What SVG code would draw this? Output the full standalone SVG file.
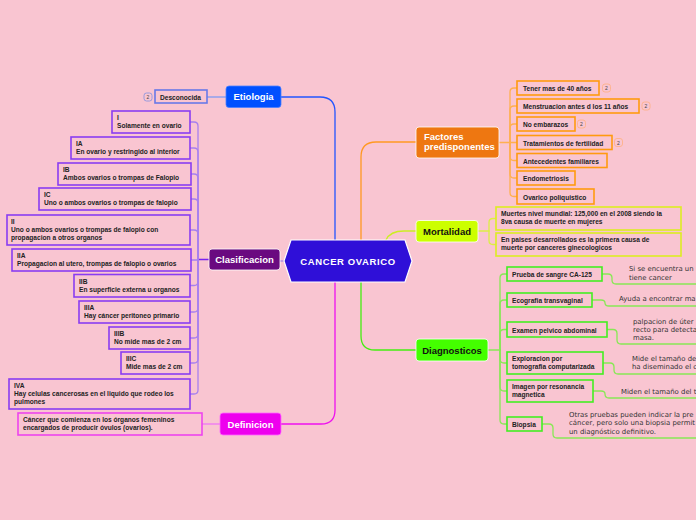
<svg xmlns="http://www.w3.org/2000/svg" width="696" height="520" viewBox="0 0 696 520">
<style>
.t{font-family:"Liberation Sans",Arial,sans-serif;font-weight:bold;font-size:6.6px;fill:#222}
.n{font-family:"DejaVu Sans",Verdana,sans-serif;font-size:6.9px;fill:#333}
.m{font-family:"Liberation Sans",Arial,sans-serif;font-weight:bold;font-size:9.5px}
.w{fill:#fff}
.d{fill:#111}
.bx{fill:#f9c5d1;stroke-width:1.6}
.cl{stroke:#8a3cf2}
.or{stroke:#ff9a10}
.gr{stroke:#44ee22}
.ye{stroke:#dded22}
.c{fill:none;stroke-width:1.3;stroke-linecap:round}
.bd{fill:#f9c5d1;stroke-width:0.8}
.bt{font-family:"Liberation Sans",Arial,sans-serif;font-size:5px;fill:#444;text-anchor:middle}
</style>
<rect width="696" height="520" fill="#f9c5d1"/>

<g id="connectors">
  <path class="c" d="M335,240 V112 Q335,97 320,97 H281" stroke="#2255ff" stroke-width="2.2"/>
  <path class="c" d="M361,240 V157 Q361,142 376,142 H416" stroke="#ff9922" stroke-width="2.2"/>
  <path class="c" d="M386,240 Q390,231 404,231 H416" stroke="#ccee22" stroke-width="2"/>
  <path class="c" d="M361,282 V336 Q361,350 375,350 H416" stroke="#44ee11" stroke-width="2.2"/>
  <path class="c" d="M335,282 V410 Q335,424 321,424 H281" stroke="#ee11ee" stroke-width="2.2"/>
  <path class="c" d="M284,261 H280" stroke="#b090e0" stroke-width="1.5"/>
  <path class="c" d="M226,97 H207" stroke="#8fa0ee"/>
  <path class="c" d="M220,424 H202" stroke="#f080f0"/>
  <path class="c" d="M209,259.5 H198" stroke="#7a22f0" stroke-width="2"/>
  <g stroke="#a880ee">
    <path class="c" d="M198,259 V126 Q198,122 194,122 H190"/>
    <path class="c" d="M198,259 V152 Q198,148 194,148 H190"/>
    <path class="c" d="M198,259 V178 Q198,174 194,174 H191"/>
    <path class="c" d="M198,259 V203 Q198,199 194,199 H191"/>
    <path class="c" d="M198,259 V234 Q198,230 194,230 H190"/>
    <path class="c" d="M198,260 H191"/>
    <path class="c" d="M198,259 V281.5 Q198,285.5 194,285.5 H190"/>
    <path class="c" d="M198,259 V308 Q198,312 194,312 H190"/>
    <path class="c" d="M198,259 V334 Q198,338 194,338 H190"/>
    <path class="c" d="M198,259 V359 Q198,363 194,363 H190"/>
    <path class="c" d="M198,259 V390 Q198,394 194,394 H190"/>
  </g>
  <g stroke="#ffb050">
    <path class="c" d="M499,142.5 H517"/>
    <path class="c" d="M510,142 V92 Q510,88 514,88 H517"/>
    <path class="c" d="M510,142 V110 Q510,106 514,106 H517"/>
    <path class="c" d="M510,142 V128 Q510,124 514,124 H517"/>
    <path class="c" d="M510,142 V156.5 Q510,160.5 514,160.5 H517"/>
    <path class="c" d="M510,142 V174 Q510,178 514,178 H517"/>
    <path class="c" d="M510,142 V192.5 Q510,196.5 514,196.5 H517"/>
  </g>
  <g stroke="#ddee44">
    <path class="c" d="M478,231 H489"/>
    <path class="c" d="M489,231 V222.5 Q489,218.5 493,218.5 H496"/>
    <path class="c" d="M489,231 V240.5 Q489,244.5 493,244.5 H496"/>
  </g>
  <g stroke="#88e855">
    <path class="c" d="M488,350 H500"/>
    <path class="c" d="M500,350 V278 Q500,274 504,274 H507"/>
    <path class="c" d="M500,350 V304 Q500,300 504,300 H507"/>
    <path class="c" d="M500,350 V333.5 Q500,329.5 504,329.5 H507"/>
    <path class="c" d="M500,350 V359 Q500,363 504,363 H507"/>
    <path class="c" d="M500,350 V387 Q500,391 504,391 H507"/>
    <path class="c" d="M500,350 V420 Q500,424 504,424 H507"/>
    <path class="c" d="M602,274 H608 Q612,274 612,278 V280 Q612,284 616,284 H696"/>
    <path class="c" d="M592,300 H601 Q605,300 605,303 Q605,306 609,306 H696"/>
    <path class="c" d="M607,329.5 H613 Q617,329.5 617,333.5 V340 Q617,344 621,344 H696"/>
    <path class="c" d="M603,363 H610 Q614,363 614,367 V370 Q614,374 618,374 H696"/>
    <path class="c" d="M593,391 H601 Q605,391 605,394 Q605,398 609,398 H696"/>
    <path class="c" d="M542,424 H549 Q553,424 553,428 V434 Q553,438 557,438 H696"/>
  </g>
</g>

<g id="center">
  <polygon points="291,240 405,240 412,261 405,282 291,282 284,261" fill="#2f0fd8" stroke="#ffffff" stroke-width="1.2"/>
  <text class="m w" x="348" y="264.5" text-anchor="middle" font-size="9" letter-spacing="0.6">CANCER OVARICO</text>
</g>

<g id="etiologia">
  <rect x="226" y="86" width="55" height="21.5" rx="3" fill="#0050ff" stroke="#4d80ff" stroke-width="0.8"/>
  <text class="m w" x="253.5" y="100" text-anchor="middle">Etiologia</text>
</g>
<g id="desconocida">
  <rect class="bx" x="155" y="90" width="52" height="13" stroke="#6878e8" stroke-width="1.4"/>
  <text class="t" x="160" y="99.5">Desconocida</text>
  <rect class="bd" x="144" y="93" width="8" height="8" rx="2.5" stroke="#8090e0"/>
  <text class="bt" x="148" y="99">2</text>
</g>

<g id="clasificacion">
  <rect x="209" y="249" width="71" height="21" rx="3" fill="#6a0a80" stroke="#ffffff" stroke-width="0.8"/>
  <text class="m w" x="244.5" y="262.5" text-anchor="middle">Clasificacion</text>
</g>
<g id="c-I">
  <rect class="bx cl" x="112" y="111" width="78" height="22"/>
  <text class="t" x="117" y="120">I</text>
  <text class="t" x="117" y="128">Solamente en ovario</text>
</g>
<g id="c-IA">
  <rect class="bx cl" x="71" y="137" width="119" height="22"/>
  <text class="t" x="76" y="146">IA</text>
  <text class="t" x="76" y="154">En ovario y restringido al interior</text>
</g>
<g id="c-IB">
  <rect class="bx cl" x="58" y="163" width="133" height="22"/>
  <text class="t" x="63" y="172">IB</text>
  <text class="t" x="63" y="180">Ambos ovarios o trompas de Falopio</text>
</g>
<g id="c-IC">
  <rect class="bx cl" x="39" y="188" width="152" height="22"/>
  <text class="t" x="44" y="197">IC</text>
  <text class="t" x="44" y="205">Uno o ambos ovarios o trompas de falopio</text>
</g>
<g id="c-II">
  <rect class="bx cl" x="7" y="215" width="183" height="30"/>
  <text class="t" x="11" y="224">II</text>
  <text class="t" x="11" y="232">Uno o ambos ovarios o trompas de falopio con</text>
  <text class="t" x="11" y="240">propagacion a otros organos</text>
</g>
<g id="c-IIA">
  <rect class="bx cl" x="12" y="249" width="179" height="22"/>
  <text class="t" x="17" y="258">IIA</text>
  <text class="t" x="17" y="266">Propagacion al utero, trompas de falopio o ovarios</text>
</g>
<g id="c-IIB">
  <rect class="bx cl" x="74" y="274.5" width="116" height="22.5"/>
  <text class="t" x="79" y="284">IIB</text>
  <text class="t" x="79" y="292">En superficie externa u organos</text>
</g>
<g id="c-IIIA">
  <rect class="bx cl" x="79" y="301" width="111" height="22"/>
  <text class="t" x="84" y="310">IIIA</text>
  <text class="t" x="84" y="318">Hay cáncer peritoneo primario</text>
</g>
<g id="c-IIIB">
  <rect class="bx cl" x="109" y="327" width="81" height="22"/>
  <text class="t" x="114" y="336">IIIB</text>
  <text class="t" x="114" y="344">No mide mas de 2 cm</text>
</g>
<g id="c-IIIC">
  <rect class="bx cl" x="121" y="352" width="69" height="22"/>
  <text class="t" x="126" y="361">IIIC</text>
  <text class="t" x="126" y="369">Mide mas de 2 cm</text>
</g>
<g id="c-IVA">
  <rect class="bx cl" x="9" y="379" width="181" height="30"/>
  <text class="t" x="14" y="388">IVA</text>
  <text class="t" x="14" y="396">Hay celulas cancerosas en el liquido que rodeo los</text>
  <text class="t" x="14" y="404">pulmones</text>
</g>

<g id="definicion">
  <rect x="220" y="413" width="61" height="22" rx="3" fill="#ee00ee" stroke="#ff66ff" stroke-width="0.8"/>
  <text class="m w" x="250.5" y="427.5" text-anchor="middle">Definicion</text>
</g>
<g id="def-text">
  <rect class="bx" x="18" y="413" width="184" height="22" stroke="#ee44ee"/>
  <text class="t" x="23" y="422">Cáncer que comienza en los órganos femeninos</text>
  <text class="t" x="23" y="430">encargados de producir óvulos (ovarios).</text>
</g>

<g id="factores">
  <rect x="416" y="127" width="83" height="31" rx="3" fill="#ee7711" stroke="#ffffff" stroke-width="0.8"/>
  <text class="m w" x="424" y="140" font-size="9">Factores</text>
  <text class="m w" x="424" y="150" font-size="9">predisponentes</text>
</g>
<g id="f1">
  <rect class="bx or" x="517" y="81" width="82" height="14"/>
  <text class="t" x="523" y="91">Tener mas de 40 años</text>
  <rect class="bd" x="602.5" y="84" width="8" height="8" rx="2.5" stroke="#ffb080"/>
  <text class="bt" x="606.5" y="90">2</text>
</g>
<g id="f2">
  <rect class="bx or" x="517" y="99" width="122" height="14"/>
  <text class="t" x="523" y="109">Menstruacion antes d los 11 años</text>
  <rect class="bd" x="642" y="102" width="8" height="8" rx="2.5" stroke="#ffb080"/>
  <text class="bt" x="646" y="108">2</text>
</g>
<g id="f3">
  <rect class="bx or" x="517" y="117" width="58" height="14"/>
  <text class="t" x="523" y="127">No embarazos</text>
  <rect class="bd" x="577.5" y="120" width="8" height="8" rx="2.5" stroke="#ffb080"/>
  <text class="bt" x="581.5" y="126">2</text>
</g>
<g id="f4">
  <rect class="bx or" x="517" y="135.5" width="95" height="14"/>
  <text class="t" x="523" y="145.5">Tratamientos de fertilidad</text>
  <rect class="bd" x="614.5" y="138.5" width="8" height="8" rx="2.5" stroke="#ffb080"/>
  <text class="bt" x="618.5" y="144.5">2</text>
</g>
<g id="f5">
  <rect class="bx or" x="517" y="153.5" width="90" height="14"/>
  <text class="t" x="523" y="163.5">Antecedentes familiares</text>
</g>
<g id="f6">
  <rect class="bx or" x="517" y="171" width="58" height="14"/>
  <text class="t" x="523" y="181">Endometriosis</text>
</g>
<g id="f7">
  <rect class="bx or" x="517" y="189" width="77" height="15"/>
  <text class="t" x="523" y="199.5">Ovarico poliquistico</text>
</g>

<g id="mortalidad">
  <rect x="416" y="220.5" width="62" height="21.5" rx="3" fill="#ccff00" stroke="#ffffff" stroke-width="0.8"/>
  <text class="m d" x="447" y="234.5" text-anchor="middle" font-size="9">Mortalidad</text>
</g>
<g id="m1">
  <rect class="bx ye" x="496" y="207" width="185" height="23"/>
  <text class="t" x="501" y="216">Muertes  nivel mundial: 125,000 en el 2008 siendo la</text>
  <text class="t" x="501" y="224">8va causa de muerte en mujeres</text>
</g>
<g id="m2">
  <rect class="bx ye" x="496" y="233" width="185" height="23"/>
  <text class="t" x="501" y="242">En paises desarrollados es la primera causa de</text>
  <text class="t" x="501" y="250">muerte por canceres ginecologicos</text>
</g>

<g id="diagnosticos">
  <rect x="416" y="339" width="72" height="22" rx="3" fill="#44ff00" stroke="#ffffff" stroke-width="0.8"/>
  <text class="m d" x="452" y="353.5" text-anchor="middle">Diagnosticos</text>
</g>
<g id="d1">
  <rect class="bx gr" x="507" y="267" width="95" height="14"/>
  <text class="t" x="512" y="277">Prueba de sangre CA-125</text>
  <text class="n" x="629" y="271">Si se encuentra un</text>
  <text class="n" x="629" y="280">tiene cancer</text>
</g>
<g id="d2">
  <rect class="bx gr" x="507" y="293" width="85" height="14"/>
  <text class="t" x="512" y="303">Ecografia transvaginal</text>
  <text class="n" x="619" y="300.5">Ayuda a encontrar ma</text>
</g>
<g id="d3">
  <rect class="bx gr" x="507" y="322" width="100" height="15"/>
  <text class="t" x="512" y="332.5">Examen pelvico abdominal</text>
  <text class="n" x="633" y="323.5">palpacion de úter</text>
  <text class="n" x="633" y="331.5">recto para detecta</text>
  <text class="n" x="633" y="339.5">masa.</text>
</g>
<g id="d4">
  <rect class="bx gr" x="507" y="352" width="96" height="22"/>
  <text class="t" x="512" y="361">Exploracion por</text>
  <text class="t" x="512" y="369">tomografia computarizada</text>
  <text class="n" x="632" y="360.5">Mide el tamaño de</text>
  <text class="n" x="632" y="369">ha diseminado el c</text>
</g>
<g id="d5">
  <rect class="bx gr" x="507" y="380" width="86" height="22"/>
  <text class="t" x="512" y="389">Imagen por resonancia</text>
  <text class="t" x="512" y="397"> magnetica</text>
  <text class="n" x="621" y="394">Miden el tamaño del t</text>
</g>
<g id="d6">
  <rect class="bx gr" x="507" y="417" width="35" height="14"/>
  <text class="t" x="512" y="427">Biopsia</text>
  <text class="n" x="569" y="416.5">Otras pruebas pueden indicar la pre</text>
  <text class="n" x="569" y="425">cáncer, pero solo una biopsia permit</text>
  <text class="n" x="569" y="433.5">un diagnóstico definitivo.</text>
</g>
</svg>
